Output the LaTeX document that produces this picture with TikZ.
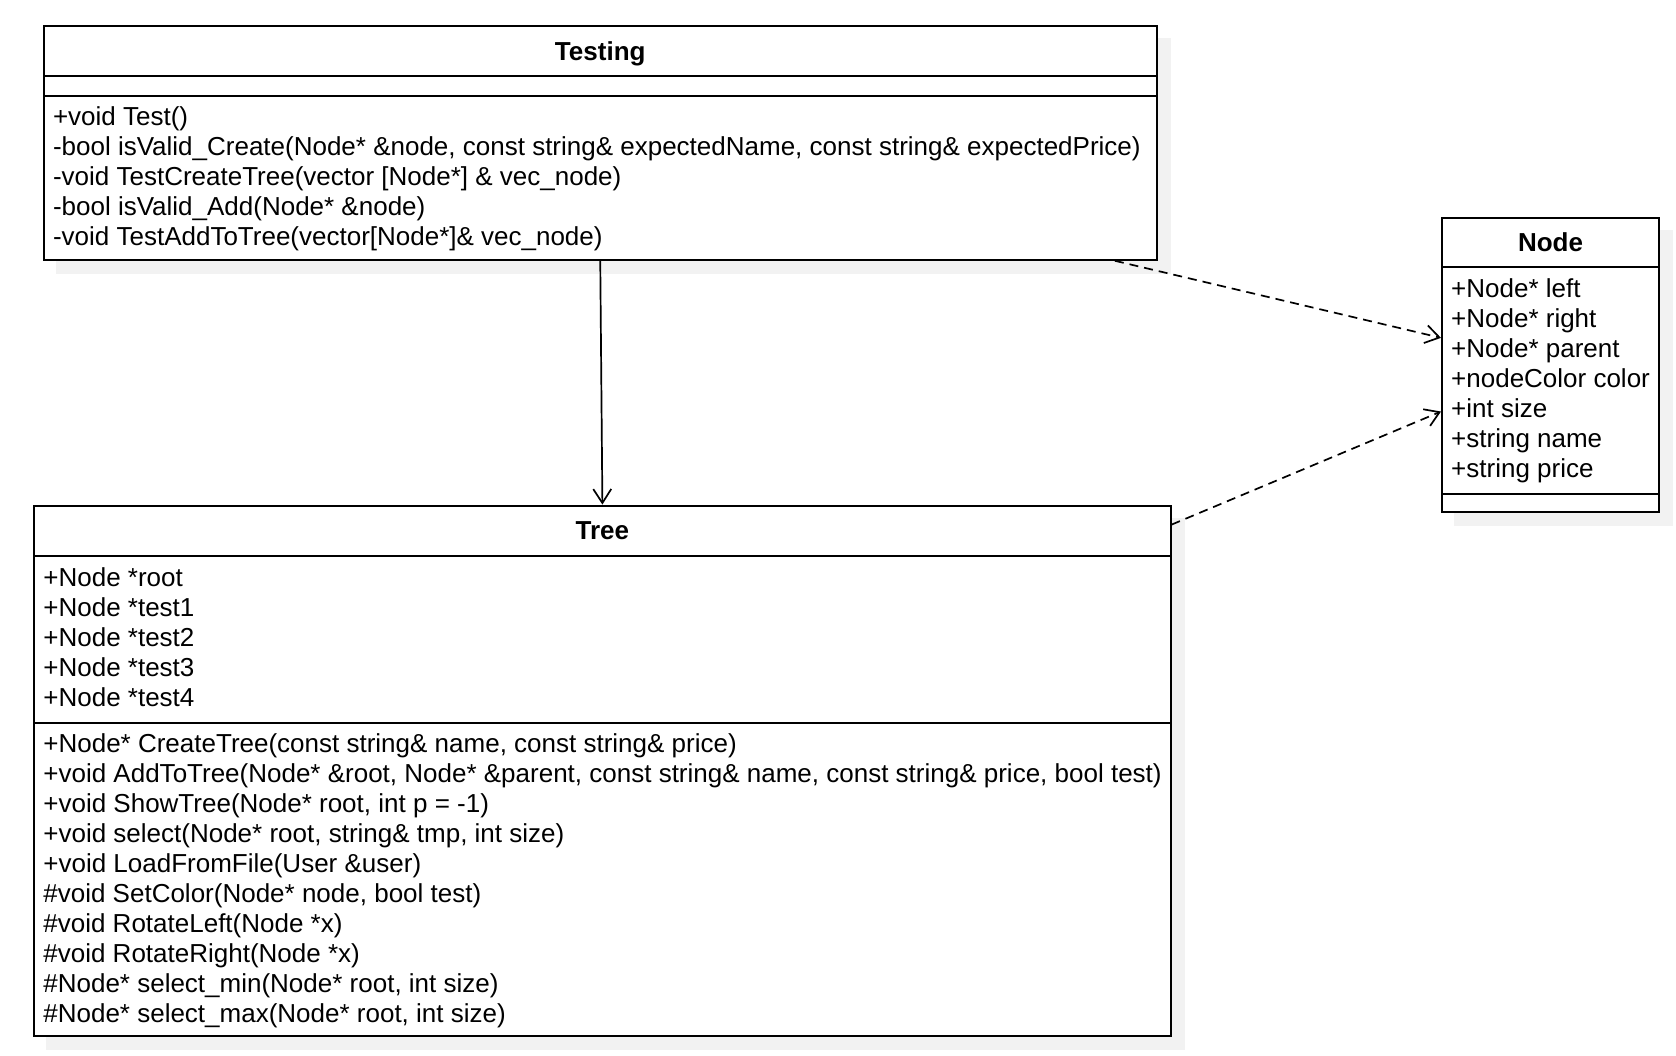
\documentclass[tikz,border=0pt]{standalone}
\usepackage{fontspec}
\setmainfont{Liberation Sans}
\usetikzlibrary{arrows.meta,backgrounds,calc}
\begin{document}
\begin{tikzpicture}[x=1pt,y=-1pt,
  part/.style={draw=black, line width=2.1pt, fill=white, inner sep=0pt, anchor=north west},
  heading/.style={font=\fontsize{26}{30}\selectfont\bfseries},
  members/.style={font=\fontsize{26}{30}\selectfont, align=left, anchor=west, inner xsep=10pt, inner ysep=0pt},
  shade/.style={fill=black!5},
  assoc/.style={line width=1.7pt, -{Straight Barb[length=14pt,width=18pt]}},
  dep/.style={assoc, dash pattern=on 9pt off 6pt},
]
\useasboundingbox (0,0) rectangle (1676,1056);

% Testing class
\node[part, heading, minimum width=1112.8pt, minimum height=50.2pt, text depth=-1pt] (testing-title) at (42.8,24.7) {Testing};
\node[part, minimum width=1112.8pt, minimum height=20.3pt] (testing-attrs) at (42.8,74.9) {};
\node[part, minimum width=1112.8pt, minimum height=163.5pt] (testing-ops) at (42.8,95.2) {};
\node[members, yshift=-1pt] (testing-ops-text) at (testing-ops.west) {%
+void Test()\\
-bool isValid\_Create(Node* \&node, const string\& expectedName, const string\& expectedPrice)\\
-void TestCreateTree(vector [Node*] \& vec\_node)\\
-bool isValid\_Add(Node* \&node)\\
-void TestAddToTree(vector[Node*]\& vec\_node)};

% Tree class
\node[part, heading, minimum width=1136.3pt, minimum height=50.2pt] (tree-title) at (33.2,504.6) {Tree};
\node[part, minimum width=1136.3pt, minimum height=166.8pt] (tree-attrs) at (33.2,554.8) {};
\node[part, minimum width=1136.3pt, minimum height=313.2pt] (tree-ops) at (33.2,721.6) {};
\node[members, yshift=2.5pt] (tree-attrs-text) at (tree-attrs.west) {%
+Node *root\\
+Node *test1\\
+Node *test2\\
+Node *test3\\
+Node *test4};
\node[members, yshift=-1.5pt] (tree-ops-text) at (tree-ops.west) {%
+Node* CreateTree(const string\& name, const string\& price)\\
+void AddToTree(Node* \&root, Node* \&parent, const string\& name, const string\& price, bool test)\\
+void ShowTree(Node* root, int p = -1)\\
+void select(Node* root, string\& tmp, int size)\\
+void LoadFromFile(User \&user)\\
\#void SetColor(Node* node, bool test)\\
\#void RotateLeft(Node *x)\\
\#void RotateRight(Node *x)\\
\#Node* select\_min(Node* root, int size)\\
\#Node* select\_max(Node* root, int size)};

% Node class
\node[part, heading, minimum width=217pt, minimum height=49.2pt] (node-title) at (1441,217) {Node};
\node[part, minimum width=217pt, minimum height=226.6pt] (node-attrs) at (1441,266.2) {};
\node[part, minimum width=217pt, minimum height=18.2pt] (node-ops) at (1441,492.8) {};
\node[members] (node-attrs-text) at (node-attrs.west) {%
+Node* left\\
+Node* right\\
+Node* parent\\
+nodeColor color\\
+int size\\
+string name\\
+string price};

% drop shadows and page background
\begin{scope}[on background layer]
  \fill[white] (0,0) rectangle (1676,1056);
  \fill[shade] ($(testing-title.north west)+(13,13)$) rectangle ($(testing-ops.south east)+(13,13)$);
  \fill[shade] ($(tree-title.north west)+(13,13)$) rectangle ($(tree-ops.south east)+(13,13)$);
  \fill[shade] ($(node-title.north west)+(13,13)$) rectangle ($(node-ops.south east)+(13,13)$);
\end{scope}

% relations
\draw[assoc] (testing-ops.south) -- (tree-title.north);
\draw[dep] ([xshift=-42.8pt]testing-ops.south east) -- ([yshift=42.7pt]node-attrs.west);
\draw[dep] ([yshift=-20pt]tree-title.north east) -- ([yshift=-31pt]node-attrs.west);
\end{tikzpicture}
\end{document}
